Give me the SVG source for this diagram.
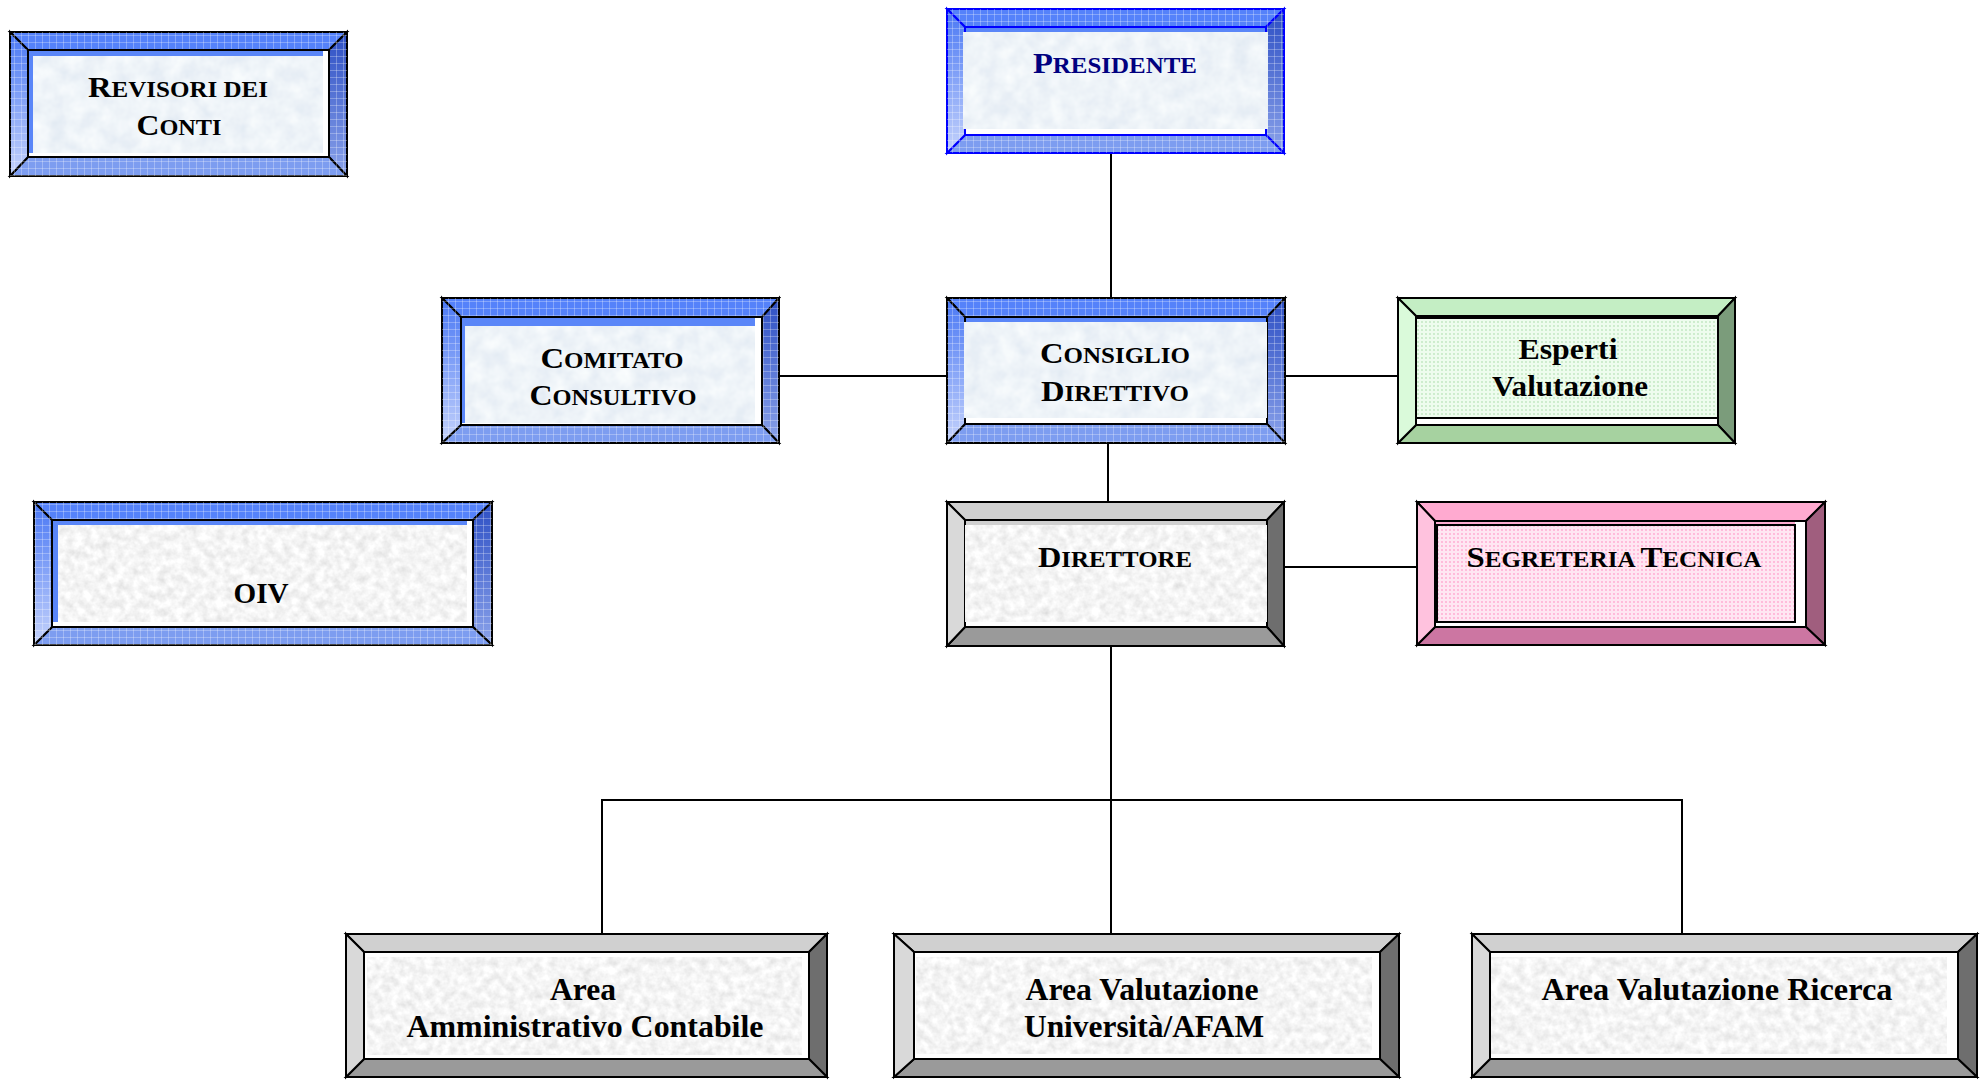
<svg xmlns="http://www.w3.org/2000/svg" width="1988" height="1081" viewBox="0 0 1988 1081">
<defs>
<linearGradient id="bl" x1="0" y1="0" x2="0" y2="1"><stop offset="0" stop-color="#4a78f4"/><stop offset="1" stop-color="#c4d2fb"/></linearGradient>
<linearGradient id="br" x1="0" y1="0" x2="0" y2="1"><stop offset="0" stop-color="#2d4fc4"/><stop offset="1" stop-color="#8aa2ea"/></linearGradient>
<pattern id="grid" width="7" height="7" patternUnits="userSpaceOnUse"><path d="M0 0.5H7M0.5 0V7" stroke="#ffffff" stroke-opacity="0.28" stroke-width="1" fill="none"/></pattern>
<pattern id="gdots" width="4" height="4" patternUnits="userSpaceOnUse"><rect width="4" height="4" fill="#eefcee"/><circle cx="2" cy="2" r="0.9" fill="#bfe6bf"/></pattern>
<pattern id="pdots" width="4" height="4" patternUnits="userSpaceOnUse"><rect width="4" height="4" fill="#ffe6f2"/><circle cx="2" cy="2" r="0.9" fill="#ffa8d0"/></pattern>
<filter id="mblue" x="0" y="0" width="100%" height="100%"><feTurbulence type="fractalNoise" baseFrequency="0.06" numOctaves="3" seed="4"/><feColorMatrix type="matrix" values="0.25 0 0 0 0.73  0.2 0 0 0 0.8  0.12 0 0 0 0.88  0 0 0 0 1"/><feComposite in2="SourceGraphic" operator="in"/></filter>
<filter id="mgray" x="0" y="0" width="100%" height="100%"><feTurbulence type="fractalNoise" baseFrequency="0.12" numOctaves="3" seed="7"/><feColorMatrix type="matrix" values="0.4 0 0 0 0.71  0.4 0 0 0 0.71  0.4 0 0 0 0.71  0 0 0 0 1"/><feComposite in2="SourceGraphic" operator="in"/></filter>
</defs>
<style>
.k{stroke:#000;stroke-width:2;stroke-linejoin:miter}
.pb{stroke:#0000ff}
.bt{fill:#5582fa}.bb{fill:#7d9df0}.bL{fill:url(#bl)}.bR{fill:url(#br)}
.gt{fill:#d0d0d0}.gb{fill:#9a9a9a}.gL{fill:#d9d9d9}.gR{fill:#6e6e6e}
.et{fill:#c4eec4}.eb{fill:#a6d2a0}.eL{fill:#dafada}.eR{fill:#7b9c7b}
.rt{fill:#ffaad0}.rb{fill:#cc76a2}.rL{fill:#ffc2de}.rR{fill:#a05e7e}
.grid{fill:url(#grid);stroke:none}
.w{fill:#fff}
.cb{fill:#dce8f4;filter:url(#mblue)}
.cg{fill:#ececec;filter:url(#mgray)}
.t{font-family:"Liberation Serif","Times New Roman",serif;font-weight:bold;fill:#000;text-anchor:middle}
.L{font-size:30px}.S{font-size:23px}.A{font-size:32px}
.lnk{stroke:#000;stroke-width:2;fill:none}
</style>

<g id="connectors">
<line class="lnk" x1="1111" y1="153" x2="1111" y2="298"/>
<line class="lnk" x1="779" y1="376" x2="947" y2="376"/>
<line class="lnk" x1="1285" y1="376" x2="1398" y2="376"/>
<line class="lnk" x1="1108" y1="443" x2="1108" y2="502"/>
<line class="lnk" x1="1284" y1="567" x2="1417" y2="567"/>
<line class="lnk" x1="1111" y1="646" x2="1111" y2="934"/>
<line class="lnk" x1="602" y1="800" x2="1682" y2="800"/>
<line class="lnk" x1="602" y1="799" x2="602" y2="934"/>
<line class="lnk" x1="1682" y1="799" x2="1682" y2="934"/>
</g>

<g id="revisori">
<polygon class="k bt" points="10,32 347,32 329,50 28,50"/>
<polygon class="k bR" points="347,32 347,176 329,157 329,50"/>
<polygon class="k bb" points="10,176 347,176 329,157 28,157"/>
<polygon class="k bL" points="10,32 28,50 28,157 10,176"/>
<polygon class="grid" points="10,32 347,32 347,176 10,176 28,157 329,157 329,50 28,50 28,157 10,176"/>
<rect class="k w" x="28" y="50" width="301" height="107"/>
<rect x="29" y="51" width="294" height="102" fill="#5a86f8"/>
<rect class="k cb" x="33" y="56" width="290" height="97"/>
<text class="t" x="178" y="97" textLength="180" lengthAdjust="spacingAndGlyphs"><tspan class="L">R</tspan><tspan class="S">EVISORI DEI</tspan></text>
<text class="t" x="179" y="135" textLength="85" lengthAdjust="spacingAndGlyphs"><tspan class="L">C</tspan><tspan class="S">ONTI</tspan></text>
</g>

<g id="presidente">
<polygon class="k pb bt" points="947,9 1284,9 1266,27 965,27"/>
<polygon class="k pb bR" points="1284,9 1284,153 1266,135 1266,27"/>
<polygon class="k pb bb" points="947,153 1284,153 1266,135 965,135"/>
<polygon class="k pb bL" points="947,9 965,27 965,135 947,153"/>
<polygon class="grid" points="947,9 1284,9 1284,153 947,153 965,135 1266,135 1266,27 965,27 965,135 947,153"/>
<rect class="k pb w" x="965" y="27" width="301" height="108"/>
<rect x="966" y="28" width="299" height="4" fill="#5a86f8"/>
<rect class="k cb" x="963" y="32" width="305" height="97"/>
<text class="t" x="1115" y="73" textLength="164" lengthAdjust="spacingAndGlyphs" style="fill:#000080"><tspan class="L">P</tspan><tspan class="S">RESIDENTE</tspan></text>
</g>

<g id="comitato">
<polygon class="k bt" points="442,298 779,298 762,317 461,317"/>
<polygon class="k bR" points="779,298 779,443 762,425 762,317"/>
<polygon class="k bb" points="442,443 779,443 762,425 461,425"/>
<polygon class="k bL" points="442,298 461,317 461,425 442,443"/>
<polygon class="grid" points="442,298 779,298 779,443 442,443 461,425 762,425 762,317 461,317 461,425 442,443"/>
<rect class="k w" x="461" y="317" width="301" height="108"/>
<rect x="462" y="318" width="293" height="105" fill="#5a86f8"/>
<rect class="k cb" x="465" y="326" width="290" height="97"/>
<text class="t" x="612" y="368" textLength="143" lengthAdjust="spacingAndGlyphs"><tspan class="L">C</tspan><tspan class="S">OMITATO</tspan></text>
<text class="t" x="613" y="405" textLength="167" lengthAdjust="spacingAndGlyphs"><tspan class="L">C</tspan><tspan class="S">ONSULTIVO</tspan></text>
</g>

<g id="consiglio">
<polygon class="k bt" points="947,298 1285,298 1267,317 965,317"/>
<polygon class="k bR" points="1285,298 1285,443 1267,424 1267,317"/>
<polygon class="k bb" points="947,443 1285,443 1267,424 965,424"/>
<polygon class="k bL" points="947,298 965,317 965,424 947,443"/>
<polygon class="grid" points="947,298 1285,298 1285,443 947,443 965,424 1267,424 1267,317 965,317 965,424 947,443"/>
<rect class="k w" x="965" y="317" width="302" height="107"/>
<rect x="966" y="318" width="300" height="4" fill="#5a86f8"/>
<rect class="k cb" x="964" y="322" width="303" height="96"/>
<text class="t" x="1115" y="363" textLength="150" lengthAdjust="spacingAndGlyphs"><tspan class="L">C</tspan><tspan class="S">ONSIGLIO</tspan></text>
<text class="t" x="1115" y="401" textLength="148" lengthAdjust="spacingAndGlyphs"><tspan class="L">D</tspan><tspan class="S">IRETTIVO</tspan></text>
</g>

<g id="esperti">
<polygon class="k et" points="1398,298 1735,298 1718,316 1416,316"/>
<polygon class="k eR" points="1735,298 1735,443 1718,425 1718,316"/>
<polygon class="k eb" points="1398,443 1735,443 1718,425 1416,425"/>
<polygon class="k eL" points="1398,298 1416,316 1416,425 1398,443"/>
<rect class="k w" x="1416" y="316" width="302" height="109"/>
<rect class="k" x="1416" y="318" width="302" height="100" fill="url(#gdots)"/>
<text class="t L" x="1568" y="359" textLength="99" lengthAdjust="spacingAndGlyphs">Esperti</text>
<text class="t L" x="1570" y="396" textLength="156" lengthAdjust="spacingAndGlyphs">Valutazione</text>
</g>

<g id="oiv">
<polygon class="k bt" points="34,502 492,502 473,520 52,520"/>
<polygon class="k bR" points="492,502 492,645 473,627 473,520"/>
<polygon class="k bb" points="34,645 492,645 473,627 52,627"/>
<polygon class="k bL" points="34,502 52,520 52,627 34,645"/>
<polygon class="grid" points="34,502 492,502 492,645 34,645 52,627 473,627 473,520 52,520 52,627 34,645"/>
<rect class="k w" x="52" y="520" width="421" height="107"/>
<rect x="53" y="521" width="414" height="101" fill="#5a86f8"/>
<rect class="k cg" x="58" y="525" width="409" height="97"/>
<text class="t L" x="261" y="603" textLength="55" lengthAdjust="spacingAndGlyphs">OIV</text>
</g>

<g id="direttore">
<polygon class="k gt" points="947,502 1284,502 1267,520 965,520"/>
<polygon class="k gR" points="1284,502 1284,646 1267,627 1267,520"/>
<polygon class="k gb" points="947,646 1284,646 1267,627 965,627"/>
<polygon class="k gL" points="947,502 965,520 965,627 947,646"/>
<rect class="k w" x="965" y="520" width="302" height="107"/>
<rect x="966" y="521" width="300" height="4" fill="#d0d0d0"/>
<rect class="k cg" x="965" y="525" width="302" height="97"/>
<text class="t" x="1115" y="567" textLength="154" lengthAdjust="spacingAndGlyphs"><tspan class="L">D</tspan><tspan class="S">IRETTORE</tspan></text>
</g>

<g id="segreteria">
<polygon class="k rt" points="1417,502 1825,502 1806,521 1435,521"/>
<polygon class="k rR" points="1825,502 1825,645 1806,627 1806,521"/>
<polygon class="k rb" points="1417,645 1825,645 1806,627 1435,627"/>
<polygon class="k rL" points="1417,502 1435,521 1435,627 1417,645"/>
<rect class="k w" x="1435" y="521" width="371" height="106"/>
<rect x="1436" y="522" width="359" height="100" fill="#ffaad0"/>
<rect class="k" x="1437" y="525" width="358" height="97" fill="url(#pdots)"/>
<text class="t" x="1614" y="567" textLength="295" lengthAdjust="spacingAndGlyphs"><tspan class="L">S</tspan><tspan class="S">EGRETERIA </tspan><tspan class="L">T</tspan><tspan class="S">ECNICA</tspan></text>
</g>

<g id="area-amm">
<polygon class="k gt" points="346,934 827,934 809,952 364,952"/>
<polygon class="k gR" points="827,934 827,1077 809,1059 809,952"/>
<polygon class="k gb" points="346,1077 827,1077 809,1059 364,1059"/>
<polygon class="k gL" points="346,934 364,952 364,1059 346,1077"/>
<rect class="k w" x="364" y="952" width="445" height="107"/>
<rect class="k cg" x="367" y="957" width="435" height="98"/>
<text class="t A" x="583" y="1000" textLength="66" lengthAdjust="spacingAndGlyphs">Area</text>
<text class="t A" x="585" y="1037" textLength="357" lengthAdjust="spacingAndGlyphs">Amministrativo Contabile</text>
</g>

<g id="area-univ">
<polygon class="k gt" points="894,934 1399,934 1380,952 914,952"/>
<polygon class="k gR" points="1399,934 1399,1077 1380,1059 1380,952"/>
<polygon class="k gb" points="894,1077 1399,1077 1380,1059 914,1059"/>
<polygon class="k gL" points="894,934 914,952 914,1059 894,1077"/>
<rect class="k w" x="914" y="952" width="466" height="107"/>
<rect class="k cg" x="916" y="957" width="456" height="97"/>
<text class="t A" x="1142" y="1000" textLength="233" lengthAdjust="spacingAndGlyphs">Area Valutazione</text>
<text class="t A" x="1144" y="1037" textLength="240" lengthAdjust="spacingAndGlyphs">Università/AFAM</text>
</g>

<g id="area-ricerca">
<polygon class="k gt" points="1472,934 1977,934 1958,952 1490,952"/>
<polygon class="k gR" points="1977,934 1977,1077 1958,1059 1958,952"/>
<polygon class="k gb" points="1472,1077 1977,1077 1958,1059 1490,1059"/>
<polygon class="k gL" points="1472,934 1490,952 1490,1059 1472,1077"/>
<rect class="k w" x="1490" y="952" width="468" height="107"/>
<rect class="k cg" x="1491" y="957" width="456" height="97"/>
<text class="t A" x="1717" y="1000" textLength="351" lengthAdjust="spacingAndGlyphs">Area Valutazione Ricerca</text>
</g>
</svg>
